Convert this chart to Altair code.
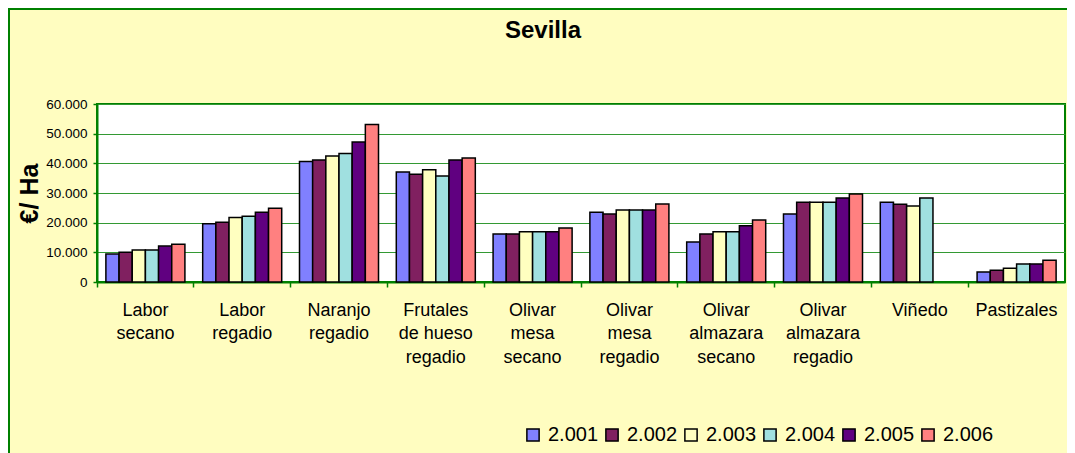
import altair as alt
import pandas as pd

categories = [
    "Labor\nsecano", "Labor\nregadio", "Naranjo\nregadio",
    "Frutales\nde hueso\nregadio", "Olivar\nmesa\nsecano", "Olivar\nmesa\nregadio",
    "Olivar\nalmazara\nsecano", "Olivar\nalmazara\nregadio", "Viñedo", "Pastizales",
]
years = ["2.001", "2.002", "2.003", "2.004", "2.005", "2.006"]
v2001 = [9400, 19600, 40600, 37100, 16200, 23500, 13500, 22900, 26900, 3400]
v2002 = [10000, 20100, 41100, 36300, 16200, 22900, 16200, 26900, 26200, 4000]
v2003 = [10800, 21700, 42500, 37800, 16900, 24300, 16900, 26900, 25600, 4600]
v2004 = [10800, 22200, 43300, 35700, 16900, 24300, 16900, 26900, 28300, 6100]
v2005 = [12100, 23500, 47200, 41100, 16900, 24300, 19000, 28300, None, 6100]
v2006 = [12700, 24900, 53100, 41800, 18200, 26300, 20900, 29700, None, 7300]
series = [v2001, v2002, v2003, v2004, v2005, v2006]
colors = ["#8080FF", "#802060", "#FFFFC0", "#A0E0E0", "#600080", "#FF8080"]
y_ticks = [0, 10000, 20000, 30000, 40000, 50000, 60000]
title_text = "Sevilla"
y_title = "€/ Ha"

rows = []
for yr, vals in zip(years, series):
    for c, v in zip(categories, vals):
        if v is not None:
            rows.append({"cat": c, "year": yr, "value": v})
df = pd.DataFrame(rows)

W, H = 968, 178
GREEN = "#008000"
GRID = "#339933"
FONT = "Liberation Sans"
BG = "#FFFDC0"

bars = alt.Chart(df).mark_bar(stroke="black", strokeWidth=1.5).encode(
    x=alt.X(
        "cat:N", sort=categories,
        scale=alt.Scale(paddingInner=0, paddingOuter=0),
        axis=alt.Axis(
            title=None, labelAngle=0, bandPosition=0,
            labelExpr="split(datum.label, '\\n')", labelFontSize=18,
            labelLineHeight=23.5, labelColor="black", labelFont=FONT,
            labelPadding=14, tickSize=5, tickColor=GREEN, tickWidth=1.5,
            domainColor=GREEN, domainWidth=2, grid=False,
        ),
    ),
    xOffset=alt.XOffset("year:N", sort=years,
                        scale=alt.Scale(paddingInner=0, paddingOuter=0.675)),
    y=alt.Y(
        "value:Q",
        scale=alt.Scale(domain=[0, 60000], nice=False),
        axis=alt.Axis(
            values=y_ticks, title=y_title,
            labelExpr="replace(format(datum.value, ',d'), ',', '.')",
            labelFontSize=13.5, labelFont=FONT, labelColor="black",
            labelPadding=6, tickSize=4, tickColor=GREEN, tickWidth=1.5,
            domainColor=GREEN, domainWidth=2,
            gridColor=GRID, gridWidth=1,
            titleFontSize=25, titleFont=FONT, titleFontWeight="bold",
            titleColor="black", titleAngle=270, titleX=-68, titleY=H / 2,
            titleBaseline="middle", titleAlign="center",
        ),
    ),
    color=alt.Color(
        "year:N", sort=years,
        scale=alt.Scale(domain=years, range=colors),
        legend=alt.Legend(
            orient="none", legendX=426, legendY=321, direction="horizontal",
            title=None, symbolType="square", symbolSize=150,
            symbolStrokeColor="black", symbolStrokeWidth=1.5,
            labelFontSize=20, labelFont=FONT, labelColor="black",
            labelOffset=5, columnPadding=3, padding=0,
        ),
    ),
)

border = alt.Chart(pd.DataFrame({"a": [0]})).mark_rect(
    filled=False, stroke=GREEN, strokeWidth=2
).encode(
    x=alt.value(-88), x2=alt.value(W + 100),
    y=alt.value(-95), y2=alt.value(H + 300),
)

title = alt.Chart(pd.DataFrame({"t": [title_text]})).mark_text(
    font=FONT, fontSize=24, fontWeight="bold", color="black",
    align="center", baseline="alphabetic",
).encode(text="t:N", x=alt.value(446), y=alt.value(-66))

chart = alt.layer(border, bars, title).properties(
    width=W, height=H,
    autosize=alt.AutoSizeParams(type="none"),
    padding={"left": 89, "top": 96, "right": 2, "bottom": 200},
    background=BG,
).configure_view(fill="white", stroke=GREEN, strokeWidth=2)

chart.save("out.html", embed_options={"renderer": "svg", "actions": False})
